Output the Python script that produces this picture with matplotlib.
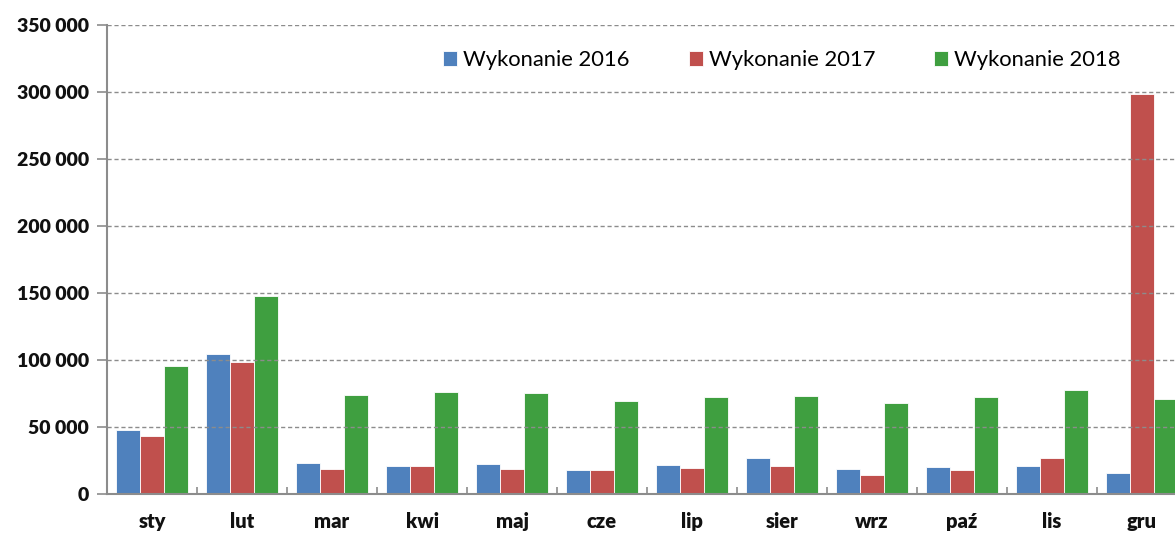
import matplotlib
matplotlib.use("Agg")
import matplotlib.pyplot as plt
import numpy as np
from matplotlib.ticker import FuncFormatter, FixedLocator

months = ["sty", "lut", "mar", "kwi", "maj", "cze", "lip", "sier", "wrz", "paź", "lis", "gru"]
series_names = ["Wykonanie 2016", "Wykonanie 2017", "Wykonanie 2018"]
w2016 = [47500, 104200, 22900, 20700, 22400, 17700, 21400, 26600, 18400, 20100, 20900, 15700]
w2017 = [43000, 98500, 18700, 20600, 18900, 17700, 19400, 21100, 14000, 18200, 26600, 298500]
w2018 = [95500, 147800, 74100, 76100, 75600, 69200, 72200, 73100, 67700, 72400, 77600, 70900]
colors = ["#4F81BD", "#C0504D", "#3F9F40"]
yticks = [0, 50000, 100000, 150000, 200000, 250000, 300000, 350000]

plt.rcParams['font.family'] = ['Lato', 'DejaVu Sans']

fig = plt.figure(figsize=(11.75, 5.34), dpi=100)
ax = fig.add_axes([107/1175, 1-494/534, 1080/1175, 469/534])

x = np.arange(len(months))
bw = 0.8/3
for i, (vals, name, c) in enumerate(zip([w2016, w2017, w2018], series_names, colors)):
    ax.bar(x + (i-1)*bw, vals, width=bw, color=c, edgecolor="white", linewidth=0.6, label=name, zorder=2)

ax.set_xlim(-0.5, len(months)-0.5)
ax.set_ylim(0, 350000)
ax.set_yticks(yticks)
ax.yaxis.set_major_formatter(FuncFormatter(lambda v, p: f"{int(v):,}".replace(",", " ")))
ax.yaxis.grid(True, linestyle=(0, (3, 2)), color="#8C8C8C", linewidth=1.0, zorder=3)
ax.set_axisbelow(False)

ax.set_xticks(x)
ax.set_xticklabels(months)
ax.xaxis.set_minor_locator(FixedLocator(np.arange(-0.5, len(months), 1.0)))
ax.tick_params(axis="x", which="major", length=0, pad=13)
ax.tick_params(axis="x", which="minor", length=5, color="#8C8C8C", width=1.2, direction="in")
ax.tick_params(axis="y", length=7, color="#8C8C8C", width=1.2, pad=6)
for lab in ax.get_yticklabels():
    lab.set_fontweight("heavy")
    lab.set_fontsize(14)
    lab.set_color("#111111")
for lab in ax.get_xticklabels():
    lab.set_fontweight("heavy")
    lab.set_fontsize(14.5)
    lab.set_color("#111111")

for s in ["top", "right"]:
    ax.spines[s].set_visible(False)
for s in ["left", "bottom"]:
    ax.spines[s].set_color("#8C8C8C")
    ax.spines[s].set_linewidth(1.5)

leg = ax.legend(loc="center", bbox_to_anchor=((782-107)/1080, (494-60)/469), ncol=3, frameon=False,
                fontsize=15.8, handlelength=0.64, handleheight=0.64, handletextpad=0.27,
                columnspacing=2.7, borderpad=0, borderaxespad=0)

fig.savefig("out.png", dpi=100)
